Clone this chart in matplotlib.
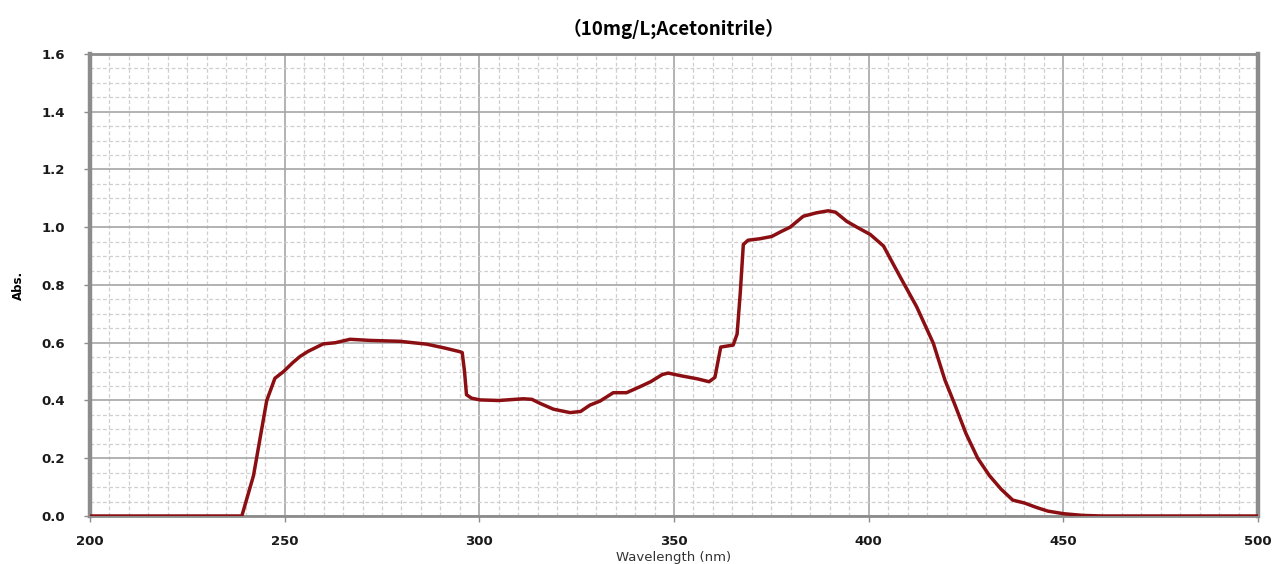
import numpy as np
import matplotlib.pyplot as plt
from matplotlib.ticker import MultipleLocator

# absorbance spectrum
wavelength = [200, 220, 238, 239, 242, 245.4, 247.5, 249.7, 252, 253.9, 256, 259.9, 263,
              266.8, 272, 279.6, 286.5, 291, 295.0, 295.6, 296.2, 296.7, 298, 300.2, 305,
              311.3, 313.5, 315.6, 319, 323.3, 326, 328.4, 331, 334.4, 337.8, 341.3,
              344, 347, 348.5, 352, 356, 359, 360.5, 362, 365.2, 366.2, 367, 367.8,
              369, 372, 375.1, 377.5, 379.8, 383.2, 386.6, 389.6, 391.5, 394.4, 397,
              400.4, 403.8, 408, 412.3, 416.6, 419.6, 422, 425, 428, 431, 434, 437,
              440, 443, 446, 450, 455, 460, 480, 500]
absorbance = [0, 0, 0, 0.0, 0.14, 0.40, 0.477, 0.50, 0.53, 0.552, 0.57, 0.596, 0.60,
              0.612, 0.608, 0.605, 0.595, 0.582, 0.569, 0.566, 0.50, 0.42, 0.408, 0.402, 0.40,
              0.406, 0.404, 0.39, 0.37, 0.358, 0.362, 0.384, 0.398, 0.427, 0.427, 0.448,
              0.465, 0.49, 0.495, 0.485, 0.475, 0.465, 0.48, 0.585, 0.592, 0.63, 0.77, 0.94,
              0.955, 0.96, 0.968, 0.985, 1.0, 1.038, 1.05, 1.057, 1.052, 1.02, 1.0,
              0.975, 0.935, 0.83, 0.725, 0.598, 0.47, 0.39, 0.285, 0.2, 0.14, 0.093, 0.055,
              0.045, 0.03, 0.017, 0.008, 0.002, 0, 0, 0]

fig = plt.figure(figsize=(12.78, 5.64), dpi=100)
ax = fig.add_axes([0.0704, 0.0851, 0.914, 0.8192])

ax.plot(wavelength, absorbance, color="#8b0f12", lw=2.5, solid_joinstyle="round", zorder=3)

ax.set_xlim(200, 500)
ax.set_ylim(0, 1.6)
ax.xaxis.set_major_locator(MultipleLocator(50))
ax.xaxis.set_minor_locator(MultipleLocator(5))
ax.yaxis.set_major_locator(MultipleLocator(0.2))
ax.yaxis.set_minor_locator(MultipleLocator(0.05))
ax.yaxis.set_major_formatter(plt.FuncFormatter(lambda v, p: f"{v:.1f}"))

ax.grid(which="major", color="#a6a6a6", lw=1.2, ls="-")
ax.grid(which="minor", color="#cfcfcf", lw=0.9, ls=(0, (3, 2)))
ax.set_axisbelow(True)

for side in ["left", "right"]:
    ax.spines[side].set_linewidth(3.2)
    ax.spines[side].set_color("#8c8c8c")
for side in ["top", "bottom"]:
    ax.spines[side].set_linewidth(2)
    ax.spines[side].set_color("#8c8c8c")

ax.tick_params(which="major", length=4, width=1, color="#8c8c8c", pad=14, labelsize=9.5)
ax.tick_params(axis="x", pad=10)
ax.tick_params(which="minor", length=0)
for lab in ax.get_xticklabels() + ax.get_yticklabels():
    lab.set_fontweight("bold")
    lab.set_color("#1a1a1a")

ax.set_xlabel("Wavelength (nm)", fontsize=9.5, color="#333333", labelpad=2)
ax.set_ylabel("Abs.", fontsize=8.5, fontweight="bold", labelpad=12)
ax.set_title("\uff0810mg/L;Acetonitrile\uff09", fontsize=13.5, fontweight="bold",
             family=["Noto Sans CJK SC", "DejaVu Sans"], pad=14)

fig.savefig("out.png", dpi=100)
